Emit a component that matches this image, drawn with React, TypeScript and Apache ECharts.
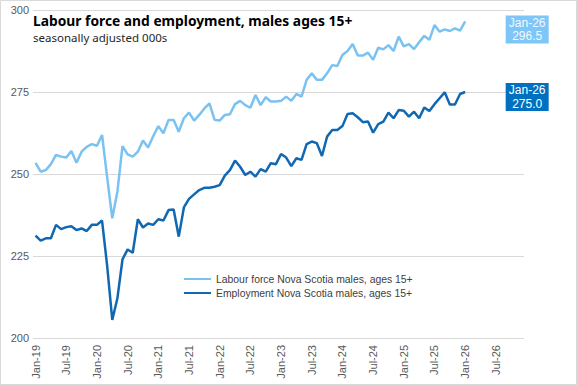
import React, { useEffect, useRef } from "react";
import * as echarts from "echarts";

const MONTHS = ["Jan", "Feb", "Mar", "Apr", "May", "Jun", "Jul", "Aug", "Sep", "Oct", "Nov", "Dec"];
const YEARS = ["19", "20", "21", "22", "23", "24", "25", "26"];
const categories: string[] = YEARS.flatMap((y) => MONTHS.map((m) => `${m}-${y}`));

const labourForce = [
  253.4, 250.7, 251.2, 253.0, 255.8, 255.3, 255.0, 257.0, 253.4, 256.8, 258.3, 259.1,
  258.6, 261.9, 249.0, 236.5, 244.6, 258.5, 256.0, 255.3, 256.8, 260.2, 258.1, 261.5,
  264.6, 262.4, 266.5, 266.5, 262.9, 267.0, 268.7, 266.3, 268.0, 270.0, 271.5, 266.5,
  266.3, 268.0, 268.2, 271.3, 272.3, 271.0, 270.2, 274.1, 271.0, 273.4, 272.1, 272.1,
  272.3, 273.6, 272.3, 274.4, 273.6, 278.7, 280.7, 278.7, 278.7, 280.7, 283.2, 282.9,
  286.3, 287.5, 289.6, 286.1, 286.1, 287.0, 284.8, 288.5, 288.0, 289.3, 287.5, 291.9,
  288.9, 289.6, 288.1, 290.2, 292.1, 290.9, 295.4, 293.4, 294.1, 293.6, 294.4, 293.7,
  296.5,
];

const employment = [
  231.2, 229.7, 230.4, 230.4, 234.5, 233.2, 233.8, 234.1, 232.9, 233.4, 232.6, 234.5,
  234.5, 235.8, 222.0, 205.5, 212.1, 224.0, 227.0, 226.0, 236.2, 233.7, 234.9, 234.5,
  236.2, 235.8, 239.0, 239.2, 230.9, 239.8, 242.4, 243.8, 245.1, 245.8, 245.8, 246.1,
  246.6, 249.5, 251.2, 254.1, 252.2, 249.7, 250.7, 249.2, 251.5, 250.7, 253.3, 253.0,
  256.1, 255.0, 252.4, 254.8, 254.3, 259.1, 259.9, 259.4, 255.5, 261.4, 263.4, 263.4,
  264.6, 268.3, 268.5, 267.3, 265.8, 266.0, 262.6, 265.2, 266.0, 268.7, 267.0, 269.5,
  269.3, 267.5, 269.0, 267.0, 270.3, 269.2, 271.3, 273.1, 274.9, 271.2, 271.2, 274.4,
  275.0,
];

const seriesNames = [
  "Labour force Nova Scotia males, ages 15+",
  "Employment Nova Scotia males, ages 15+",
];
const yTicks = { min: 200, max: 300, interval: 25 };
const title = "Labour force and employment, males ages 15+";
const subtitle = "seasonally adjusted 000s";

const LIGHT = "#79C2F2";
const DARK = "#1068B2";
const FONT = "Liberation Sans, Arial, sans-serif";

export default function App() {
  const ref = useRef<HTMLDivElement>(null);
  useEffect(() => {
    if (!ref.current) return;
    const chart = echarts.init(ref.current, undefined, { renderer: "svg" });
    const endLabel = (bg: string, color: string, dy: number) => ({
      show: true,
      distance: 62,
      offset: [0, dy],
      formatter: (p: any) => `${categories[p.dataIndex]}\n${Number(p.value).toFixed(1)}`,
      backgroundColor: bg,
      color,
      fontSize: 12,
      lineHeight: 13.5,
      fontFamily: FONT,
      padding: [1, 4, 0, 4],
      width: 35,
      align: "center",
    });
    chart.setOption({
      animation: false,
      textStyle: { fontFamily: FONT },
      graphic: [
        {
          type: "rect",
          shape: { x: 0.5, y: 0.5, width: 576, height: 384 },
          style: { fill: "none", stroke: "#D9D9D9", lineWidth: 1 },
          silent: true,
        },
        {
          type: "text",
          x: 33,
          y: 20,
          style: {
            text: title,
            fontSize: 13.8,
            fontWeight: "bold",
            fontFamily: "Noto Sans, sans-serif",
            fill: "#000000",
            verticalAlign: "middle",
          },
        },
        {
          type: "text",
          x: 33,
          y: 37,
          style: {
            text: subtitle,
            fontSize: 11.5,
            fontFamily: "Noto Sans, sans-serif",
            fill: "#262626",
            verticalAlign: "middle",
          },
        },
      ],
      grid: { left: 33, right: 53, top: 10, bottom: 47, containLabel: false },
      legend: {
        orient: "vertical",
        left: 184,
        top: 274,
        padding: 0,
        itemWidth: 27,
        itemHeight: 14,
        itemGap: 4,
        icon: "path://M0,6 L27,6 L27,8 L0,8 Z",
        textStyle: { fontSize: 10.4, color: "#404040", fontFamily: FONT },
        data: seriesNames,
      },
      xAxis: {
        type: "category",
        data: categories,
        boundaryGap: true,
        axisLine: { show: false },
        axisTick: { show: false },
        axisLabel: {
          interval: 5,
          rotate: 90,
          fontSize: 11,
          color: "#595959",
          margin: 7,
          fontFamily: FONT,
        },
      },
      yAxis: {
        type: "value",
        min: yTicks.min,
        max: yTicks.max,
        interval: yTicks.interval,
        axisLine: { show: false },
        axisTick: { show: false },
        axisLabel: { fontSize: 11, color: "#595959", margin: 4, fontFamily: FONT },
        splitLine: { lineStyle: { color: "#D9D9D9", width: 1 } },
      },
      series: [
        {
          name: seriesNames[0],
          type: "line",
          data: labourForce,
          showSymbol: false,
          symbol: "none",
          lineStyle: { color: LIGHT, width: 2.5 },
          itemStyle: { color: LIGHT },
          endLabel: endLabel("#7DC6F7", "#F2F9FF", 8),
        },
        {
          name: seriesNames[1],
          type: "line",
          data: employment,
          showSymbol: false,
          symbol: "none",
          lineStyle: { color: DARK, width: 2.5 },
          itemStyle: { color: DARK },
          endLabel: endLabel("#0070C0", "#FFFFFF", 5),
        },
      ],
    });
    return () => chart.dispose();
  }, []);
  return (
    <div
      ref={ref}
      style={{ position: "absolute", left: 0, top: 0, width: 577, height: 385 }}
    />
  );
}
